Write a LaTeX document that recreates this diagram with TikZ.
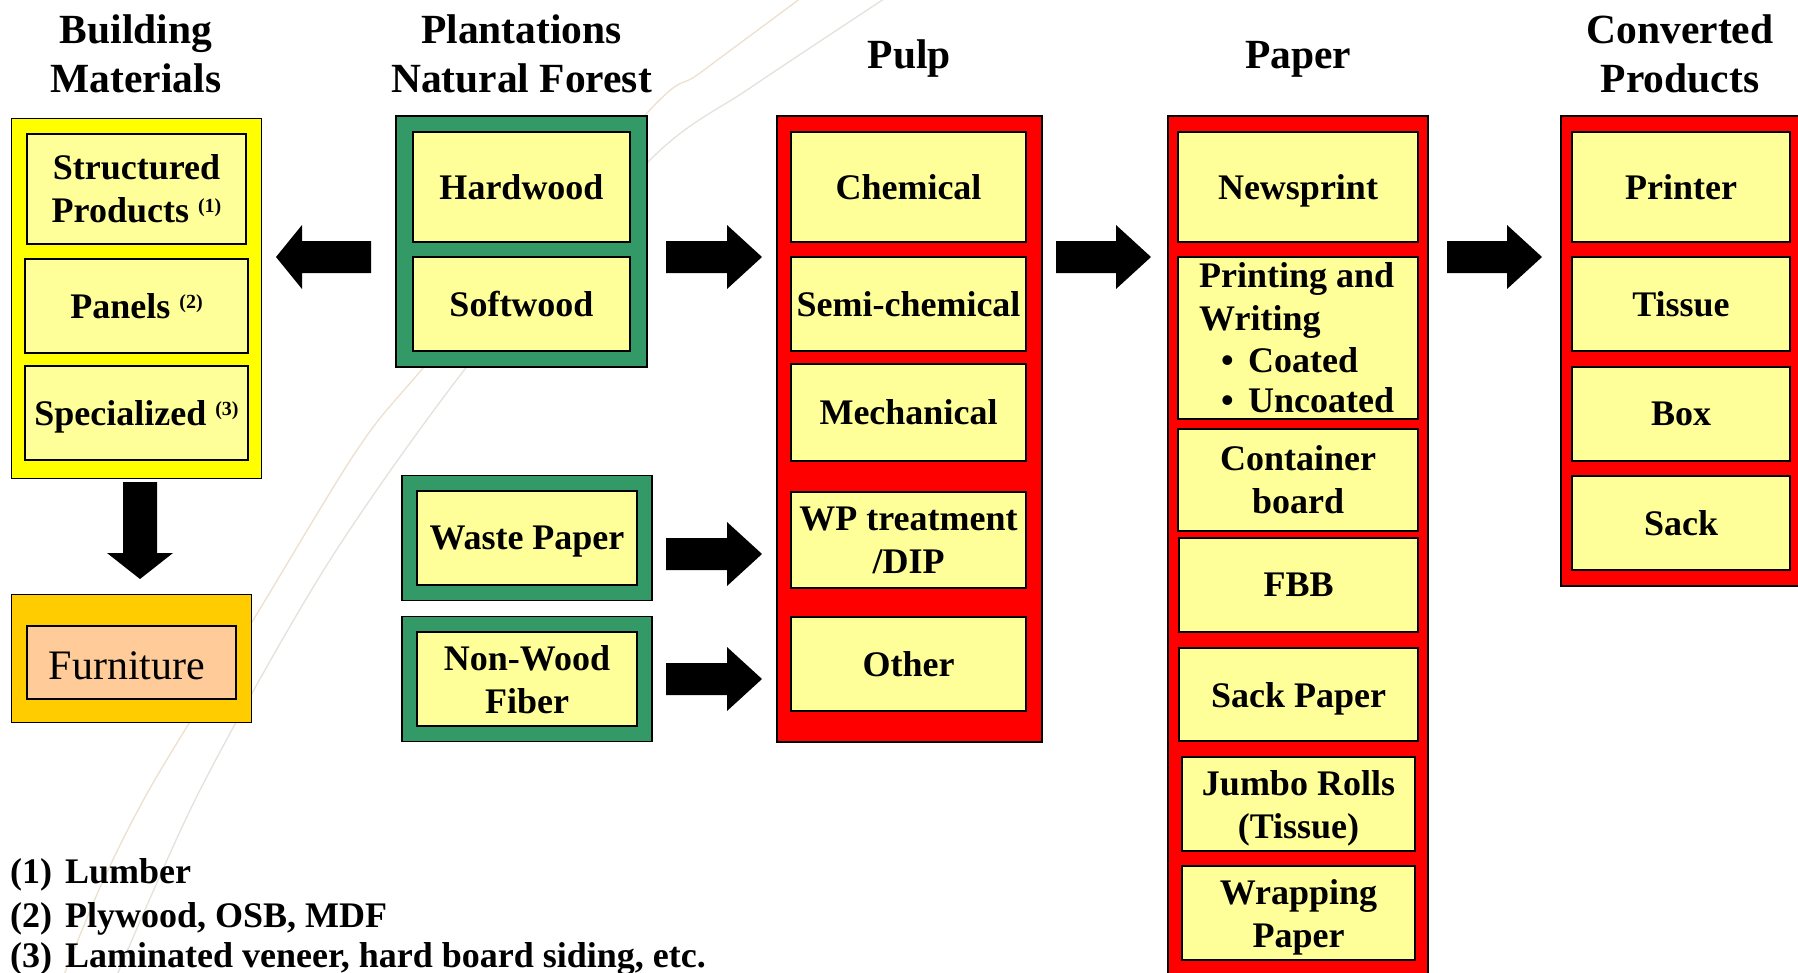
\documentclass[tikz,border=0pt]{standalone}
\usepackage{fontspec}
\setmainfont{Liberation Serif}
\usetikzlibrary{calc}
\definecolor{inyellow}{HTML}{FFFF99}
\definecolor{bmyellow}{HTML}{FFFF00}
\definecolor{forestgrn}{HTML}{339966}
\definecolor{pulpred}{HTML}{FF0000}
\definecolor{furnorange}{HTML}{FFCC00}
\definecolor{furnpeach}{HTML}{FFCC99}
\definecolor{swooshA}{HTML}{EDE0CF}
\definecolor{swooshB}{HTML}{E4E2DA}
\newcommand\bxfont{\fontsize{36}{43}\selectfont\bfseries}
\newcommand\hdfont{\fontsize{41.5}{49}\selectfont\bfseries}
\newcommand\supnum[1]{\smash{\raisebox{10pt}{\fontsize{20}{20}\selectfont(#1)}}}
\newcommand\harrow[3]{%
  \fill ($(#1)+(0,-16)$) -- ($(#2)+(#3,-16)$) -- ($(#2)+(#3,-32)$) -- (#2)
     -- ($(#2)+(#3,32)$) -- ($(#2)+(#3,16)$) -- ($(#1)+(0,16)$) -- cycle;}
\tikzset{
  outerbox/.style={draw=black, line width=1.5pt, inner sep=0pt},
  innerbox/.style={draw=black, line width=2.2pt, fill=inyellow, inner sep=0pt,
     align=center, font=\bxfont, text depth=0pt},
  header/.style={font=\hdfont, inner sep=0pt},
  plain/.style={font=\bxfont, inner sep=0pt},
}
\begin{document}
\begin{tikzpicture}[x=1pt,y=-1pt]
\useasboundingbox (0,0) rectangle (1798,972);
\fill[white] (0,0) rectangle (1798,972);

% background swooshes
\draw[swooshA, line width=1.3pt] plot[smooth] coordinates
  {(805,-5) (700,73) (647,113) (424,367) (357,450) (255,617) (153,783) (102,883) (62,980)};
\draw[swooshB, line width=1.3pt] plot[smooth] coordinates
  {(890,-5) (750,88) (653,157) (480,350) (330,560) (200,790) (115,980)};

% headers
\setlength{\tabcolsep}{0pt}
\node[header, anchor=base] (hbm) at (136,43) {\begin{tabular}[t]{c}Building\\Materials\end{tabular}};
\node[header, anchor=base] (hpf) at (521.5,43) {\begin{tabular}[t]{c}Plantations\\Natural Forest\end{tabular}};
\node[header, anchor=base] (hpulp) at (909.5,68) {Pulp};
\node[header, anchor=base] (hpaper) at (1298,68) {Paper};
\node[header, anchor=base] (hconv) at (1680,43) {\begin{tabular}[t]{c}Converted\\Products\end{tabular}};

% outer boxes
\node[outerbox, fill=bmyellow, minimum width=250pt, minimum height=360pt] (bm) at (136.5,298.5) {};
\node[outerbox, fill=forestgrn, minimum width=251pt, minimum height=251pt] (pf) at (521.5,241.5) {};
\node[outerbox, fill=pulpred, minimum width=265pt, minimum height=626pt] (pulp) at (909.5,429) {};
\node[outerbox, fill=pulpred, minimum width=260pt, minimum height=870pt] (paper) at (1298,551) {};
\node[outerbox, fill=pulpred, minimum width=249pt, minimum height=470pt] (conv) at (1685.5,351) {};
\node[outerbox, fill=forestgrn, minimum width=250pt, minimum height=125pt] (wpo) at (527,538) {};
\node[outerbox, fill=forestgrn, minimum width=250pt, minimum height=125pt] (nwo) at (527,679) {};
\node[outerbox, fill=furnorange, minimum width=240pt, minimum height=128pt] (furn) at (131.5,658.5) {};

% building materials
\node[innerbox, minimum width=219pt, minimum height=110pt] (sp) at (136.5,189) {Structured\\Products \supnum{1}};
\node[innerbox, minimum width=223pt, minimum height=94pt] (pan) at (136.5,306) {Panels \supnum{2}};
\node[innerbox, minimum width=223pt, minimum height=94pt] (spec) at (136.5,413) {Specialized \supnum{3}};
% forest
\node[innerbox, minimum width=217pt, minimum height=110pt] (hw) at (521.5,187) {Hardwood};
\node[innerbox, minimum width=217pt, minimum height=94pt] (sw) at (521.5,304) {Softwood};
\node[innerbox, minimum width=220pt, minimum height=94pt] (wpap) at (527,538) {Waste Paper};
\node[innerbox, minimum width=220pt, minimum height=94pt] (nwf) at (527,679) {Non-Wood\\Fiber};
% furniture
\node[draw=black, line width=2.2pt, fill=furnpeach, inner sep=0pt,
      minimum width=209pt, minimum height=73pt] (fur) at (131.5,662.5) {};
\node[inner sep=0pt, anchor=base, font=\fontsize{42}{48}\selectfont] (furt) at (127,679) {Furniture};
% pulp
\node[innerbox, minimum width=235pt, minimum height=110pt] (chem) at (908.5,187) {Chemical};
\node[innerbox, minimum width=235pt, minimum height=94pt] (semi) at (908.5,304) {Semi-chemical};
\node[innerbox, minimum width=235pt, minimum height=97pt] (mech) at (908.5,412.5) {Mechanical};
\node[innerbox, minimum width=235pt, minimum height=96pt] (wpt) at (908.5,540) {WP treatment\\/DIP};
\node[innerbox, minimum width=235pt, minimum height=94pt] (oth) at (908.5,664) {Other};
% paper
\node[innerbox, minimum width=240pt, minimum height=110pt] (news) at (1298,187) {Newsprint};
\node[innerbox, minimum width=240pt, minimum height=162pt] (pw) at (1298,338) {};
\node[plain, anchor=base west] (pw1) at (1199,287) {Printing and};
\node[plain, anchor=base west] (pw2) at (1199,330) {Writing};
\node[plain, anchor=base west] (pw3) at (1221,372) {\makebox[27pt][l]{•}Coated};
\node[plain, anchor=base west] (pw4) at (1221,412) {\makebox[27pt][l]{•}Uncoated};
\node[innerbox, minimum width=240pt, minimum height=102pt] (cb) at (1298,480) {Container\\board};
\node[innerbox, minimum width=239pt, minimum height=94pt] (fbb) at (1298.5,585) {FBB};
\node[innerbox, minimum width=239pt, minimum height=93pt] (sackp) at (1298.5,694.5) {Sack Paper};
\node[innerbox, minimum width=233pt, minimum height=94pt] (jumbo) at (1298.5,804) {Jumbo Rolls\\(Tissue)};
\node[innerbox, minimum width=233pt, minimum height=94pt] (wrap) at (1298.5,913) {Wrapping\\Paper};
% converted
\node[innerbox, minimum width=218pt, minimum height=110pt] (printer) at (1681,187) {Printer};
\node[innerbox, minimum width=218pt, minimum height=94pt] (tissue) at (1681,304) {Tissue};
\node[innerbox, minimum width=218pt, minimum height=94pt] (box) at (1681,414) {Box};
\node[innerbox, minimum width=218pt, minimum height=94pt] (sack) at (1681,523) {Sack};

% block arrows
\coordinate (a0s) at (371,257); \coordinate (a0t) at (276,257);
\coordinate (a1s) at (666,257); \coordinate (a1t) at (762,257);
\coordinate (a2s) at (1056,257); \coordinate (a2t) at (1151,257);
\coordinate (a3s) at (1447,257); \coordinate (a3t) at (1542,257);
\coordinate (a4s) at (666,554); \coordinate (a4t) at (762,554);
\coordinate (a5s) at (666,679); \coordinate (a5t) at (762,679);
\harrow{a0s}{a0t}{26}
\harrow{a1s}{a1t}{-35}
\harrow{a2s}{a2t}{-35}
\harrow{a3s}{a3t}{-35}
\harrow{a4s}{a4t}{-35}
\harrow{a5s}{a5t}{-35}
\coordinate (dns) at (140,482); \coordinate (dnt) at (140,579);
\fill ($(dns)+(-17,0)$) -- ($(dnt)+(-17,-26)$) -- ($(dnt)+(-33,-26)$) -- (dnt)
   -- ($(dnt)+(33,-26)$) -- ($(dnt)+(17,-26)$) -- ($(dns)+(17,0)$) -- cycle;

% footnotes
\node[plain, anchor=base west] (f1n) at (10,883) {(1)};
\node[plain, anchor=base west] (f1t) at (65,883) {Lumber};
\node[plain, anchor=base west] (f2n) at (10,927) {(2)};
\node[plain, anchor=base west] (f2t) at (65,927) {Plywood, OSB, MDF};
\node[plain, anchor=base west] (f3n) at (10,967) {(3)};
\node[plain, anchor=base west] (f3t) at (65,967) {Laminated veneer, hard board siding, etc.};
\end{tikzpicture}
\end{document}
